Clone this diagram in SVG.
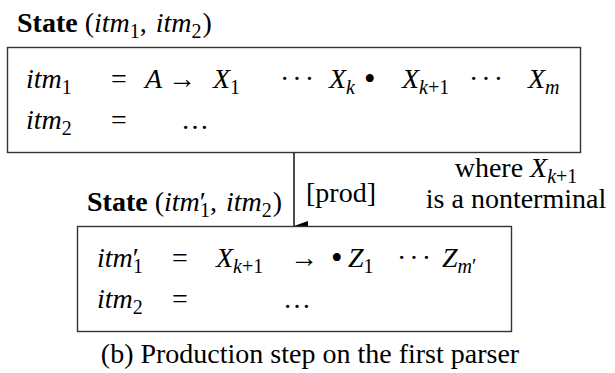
<svg xmlns="http://www.w3.org/2000/svg" width="615" height="373" viewBox="0 0 615 373">
<style>
.t{font-family:"Liberation Serif","Times New Roman",serif;font-size:28px;fill:#000}
.i{font-style:italic}
.b{font-weight:bold}
.s{font-size:20px}
.bul{font-size:33px}
.box{fill:#fff;stroke:#333;stroke-width:1.4}
.dots{letter-spacing:3px}
</style>
<defs>
<marker id="ah" viewBox="0 0 10 14" refX="5" refY="14" markerWidth="10" markerHeight="14" markerUnits="userSpaceOnUse" orient="auto-start-reverse">
<path d="M0,0 L10,0 L5,14 Z" fill="#000"/>
</marker>
</defs>

<g id="state1">
<text class="t" x="17" y="32"><tspan class="b">State</tspan> (<tspan class="i">itm</tspan><tspan class="s" dy="6">1</tspan><tspan dy="-6">, </tspan><tspan class="i" dx="2">itm</tspan><tspan class="s" dy="6">2</tspan><tspan dy="-6" dx="1">)</tspan></text>
<rect class="box" x="7.5" y="47.5" width="573" height="105"/>
<text class="t i" x="26" y="88">itm<tspan class="s" font-style="normal" dy="6">1</tspan></text>
<text class="t" x="111" y="88">=</text>
<text class="t i" x="145" y="88">A</text>
<text class="t" x="168" y="88">→</text>
<text class="t i" x="213" y="88">X<tspan class="s" font-style="normal" dy="6">1</tspan></text>
<text class="t dots" x="280" y="88">···</text>
<text class="t i" x="329" y="88">X<tspan class="s" dy="6">k</tspan></text>
<text class="t bul" x="364" y="90">•</text>
<text class="t i" x="402" y="88">X<tspan class="s" dy="6">k</tspan><tspan class="s" font-style="normal">+1</tspan></text>
<text class="t dots" x="469" y="88">···</text>
<text class="t i" x="528" y="88">X<tspan class="s" dy="6">m</tspan></text>
<text class="t i" x="26" y="129">itm<tspan class="s" font-style="normal" dy="6">2</tspan></text>
<text class="t" x="111" y="129">=</text>
<text class="t" x="181" y="129">…</text>
</g>

<g id="connectors">
<line x1="294" y1="153" x2="294" y2="226" stroke="#000" stroke-width="1.4" marker-end="url(#ah)"/>
<text class="t" x="306" y="202">[prod]</text>
<text class="t" x="516" y="177" text-anchor="middle">where <tspan class="i">X</tspan><tspan class="s i" dy="6">k</tspan><tspan class="s">+1</tspan></text>
<text class="t" x="516" y="208" text-anchor="middle">is a nonterminal</text>
</g>

<g id="state2">
<text class="t" x="87" y="211"><tspan class="b">State</tspan> (<tspan class="i">itm</tspan>′<tspan class="s" dx="-6" dy="6">1</tspan><tspan dy="-6">, </tspan><tspan class="i" dx="2">itm</tspan><tspan class="s" dy="6">2</tspan><tspan dy="-6" dx="1">)</tspan></text>
<rect class="box" x="77.5" y="226.5" width="434" height="105"/>
<text class="t" x="97" y="267"><tspan class="i">itm</tspan>′<tspan class="s" dx="-6" dy="6">1</tspan></text>
<text class="t" x="172" y="267">=</text>
<text class="t i" x="216" y="267">X<tspan class="s" dy="6">k</tspan><tspan class="s" font-style="normal">+1</tspan></text>
<text class="t" x="290" y="267">→</text>
<text class="t bul" x="331" y="269">•</text>
<text class="t i" x="348" y="267">Z<tspan class="s" font-style="normal" dy="6">1</tspan></text>
<text class="t dots" x="397" y="267">···</text>
<text class="t i" x="442" y="267">Z<tspan class="s" dy="6">m</tspan><tspan class="s" font-style="normal">′</tspan></text>
<text class="t i" x="97" y="308">itm<tspan class="s" font-style="normal" dy="6">2</tspan></text>
<text class="t" x="172" y="308">=</text>
<text class="t" x="283" y="308">…</text>
</g>

<text class="t" x="310" y="363" text-anchor="middle">(b) Production step on the first parser</text>
</svg>
